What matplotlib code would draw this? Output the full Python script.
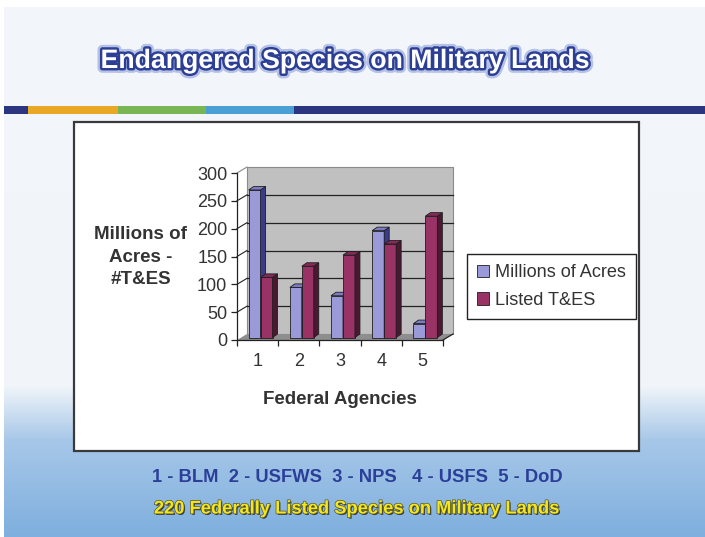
import numpy as np
import matplotlib.pyplot as plt
import matplotlib.patheffects as pe
from matplotlib.patches import Polygon, Rectangle

plt.rcParams['font.family'] = ['Liberation Sans', 'DejaVu Sans']

# data
agencies = [1, 2, 3, 4, 5]
agency_names = ['BLM', 'USFWS', 'NPS', 'USFS', 'DoD']
acres = [265, 90, 75, 192, 25]
listed = [108, 128, 148, 168, 218]
series_labels = ['Millions of Acres', 'Listed T&ES']
yticks = [0, 50, 100, 150, 200, 250, 300]

W, H = 705, 537
fig = plt.figure(figsize=(W / 100, H / 100), dpi=100)

# ---- slide background (pixel coords) ----
bg = fig.add_axes([0, 0, 1, 1])
bg.set_xlim(0, W)
bg.set_ylim(H, 0)
bg.set_axis_off()
stops_y = [0, 385, 400, 440, 537]
stops_c = ['#f3f6fb', '#f1f5fa', '#dde9f5', '#a7c7e8', '#7eafde']
rgb = np.array([[int(c[i:i + 2], 16) / 255 for i in (1, 3, 5)] for c in stops_c])
rows = np.arange(H)
grad = np.stack([np.interp(rows, stops_y, rgb[:, k]) for k in range(3)], axis=1)
bg.imshow(grad[:, None, :], extent=[0, W, H, 0], aspect='auto')
bg.add_patch(Rectangle((0, 0), W, 7, fc='white', ec='none'))
bg.add_patch(Rectangle((0, 0), 4, H, fc='white', ec='none'))

# coloured stripe under the title
stripe = [(4, 28, '#2b3580'), (28, 118, '#e8a825'), (118, 206, '#78b655'),
          (206, 294, '#4a9fd5'), (294, W, '#2b3580')]
for x0, x1, c in stripe:
    bg.add_patch(Rectangle((x0, 106), x1 - x0, 8, fc=c, ec='none'))

# white chart box
bg.add_patch(Rectangle((74, 122), 565, 329, fc='white', ec='#3a3a3a', lw=1.6))

fig.text(344 / W, 1 - 61 / H, 'Endangered Species on Military Lands',
         ha='center', va='center', color='white', fontsize=19.2, fontweight='bold',
         path_effects=[pe.Stroke(linewidth=7, foreground='#b5c2e6'),
                       pe.Stroke(linewidth=3.5, foreground='#2d3f95'), pe.Normal()])

# ---- chart ----
ax = fig.add_axes([237 / W, 1 - 340 / H, 206 / W, 167 / H])
ax.set_xlim(0.5, 5.5)
ax.set_ylim(0, 300)
ax.patch.set_visible(False)
for s in ['top', 'right']:
    ax.spines[s].set_visible(False)
for s in ['left', 'bottom']:
    ax.spines[s].set_color('#222222')
    ax.spines[s].set_linewidth(0.9)
    ax.spines[s].set_zorder(20)

bb = ax.get_position()
ux = 5.0 / (bb.width * W)    # data units per pixel
uy = 300.0 / (bb.height * H)
DX, DY = 10 * ux, 6 * uy     # wall depth
bx, by = 3 * ux, 2.5 * uy    # bar front offset
ddx, ddy = 5 * ux, 3.5 * uy  # bar depth

# back wall + floor
ax.add_patch(Rectangle((0.5 + DX, DY), 5, 300, fc='#c0c0c0', ec='#8a8a8a', lw=0.8, zorder=0, clip_on=False))
ax.add_patch(Polygon([(0.5, 0), (5.5, 0), (5.5 + DX, DY), (0.5 + DX, DY)],
                     fc='#8e8e8e', ec='none', zorder=1, clip_on=False))
ax.plot([5.5, 5.5 + DX], [0, DY], color='#222222', lw=0.9, zorder=20, clip_on=False)
for v in yticks[1:]:
    col = '#222222' if v < 300 else '#8a8a8a'
    if v < 300:
        ax.plot([0.5 + DX, 5.5 + DX], [v + DY, v + DY], color=col, lw=0.9, zorder=1, clip_on=False)
    ax.plot([0.5, 0.5 + DX], [v, v + DY], color=col, lw=0.8, zorder=1, clip_on=False)

w = 0.29
colors = ['#9a9ad8', '#993366']
tops = ['#7c7cc6', '#842a58']
sides = ['#3b3b8a', '#4b1831']
x = np.array(agencies, dtype=float)
handles = []
z = 3
for i in range(len(agencies)):
    for k, vals in enumerate([acres, listed]):
        x0 = x[i] + (k - 1) * w + bx
        h = vals[i]
        b = ax.bar(x0, h, width=w, bottom=by, align='edge', color=colors[k],
                   edgecolor='#1e1e1e', lw=0.6, zorder=z, clip_on=False)
        x1 = x0 + w
        ax.add_patch(Polygon([(x1, by), (x1 + ddx, by + ddy), (x1 + ddx, by + h + ddy), (x1, by + h)],
                             fc=sides[k], ec='#1e1e1e', lw=0.6, zorder=z, clip_on=False))
        ax.add_patch(Polygon([(x0, by + h), (x1, by + h), (x1 + ddx, by + h + ddy), (x0 + ddx, by + h + ddy)],
                             fc=tops[k], ec='#1e1e1e', lw=0.6, zorder=z, clip_on=False))
        z += 1
        if i == 0:
            handles.append(b)

ax.set_yticks(yticks)
ax.set_yticklabels([str(v) for v in yticks], size=13, color='#333333')
ax.tick_params(axis='y', direction='out', length=4, width=0.9, pad=3, color='#222222')
ax.set_xticks(agencies)
ax.set_xticklabels([str(a) for a in agencies], size=13, color='#333333')
ax.tick_params(axis='x', which='major', length=0, pad=9)
ax.set_xticks(np.arange(0.5, 6, 1), minor=True)
ax.tick_params(axis='x', which='minor', direction='out', length=4, width=0.9, color='#222222')

lab_font = dict(fontweight='bold', size=13.5, color='#333333')
fig.text(141 / W, 1 - 257 / H, 'Millions of\nAcres -\n#T&ES', ha='center', va='center',
         linespacing=1.45, **lab_font)
fig.text(340 / W, 1 - 400 / H, 'Federal Agencies', ha='center', va='center', **lab_font)

leg = fig.legend(handles, series_labels, loc='upper left', bbox_to_anchor=(467 / W, 1 - 254 / H),
                 borderaxespad=0, frameon=True, fancybox=False, edgecolor='#222222', framealpha=1,
                 handlelength=0.65, handleheight=0.65, handletextpad=0.35, borderpad=0.55,
                 labelspacing=0.6, prop=dict(size=13.1))
leg.get_frame().set_linewidth(1.0)
for t in leg.get_texts():
    t.set_color('#333333')

key = '  '.join(f'{a} - {n}' for a, n in zip(agencies, agency_names))
key = key.replace('NPS  4', 'NPS   4')
fig.text(357 / W, 1 - 477 / H, key, ha='center', va='center', color='#2b3f98',
         fontsize=13.2, fontweight='bold')
fig.text(357 / W, 1 - 509 / H, '220 Federally Listed Species on Military Lands', ha='center', va='center',
         color='#f3e71b', fontsize=13.2, fontweight='bold',
         path_effects=[pe.withSimplePatchShadow(offset=(1, -1), shadow_rgbFace='#333333', alpha=0.9),
                       pe.Stroke(linewidth=1.0, foreground='#555533'), pe.Normal()])

fig.savefig('out.png', dpi=100)
